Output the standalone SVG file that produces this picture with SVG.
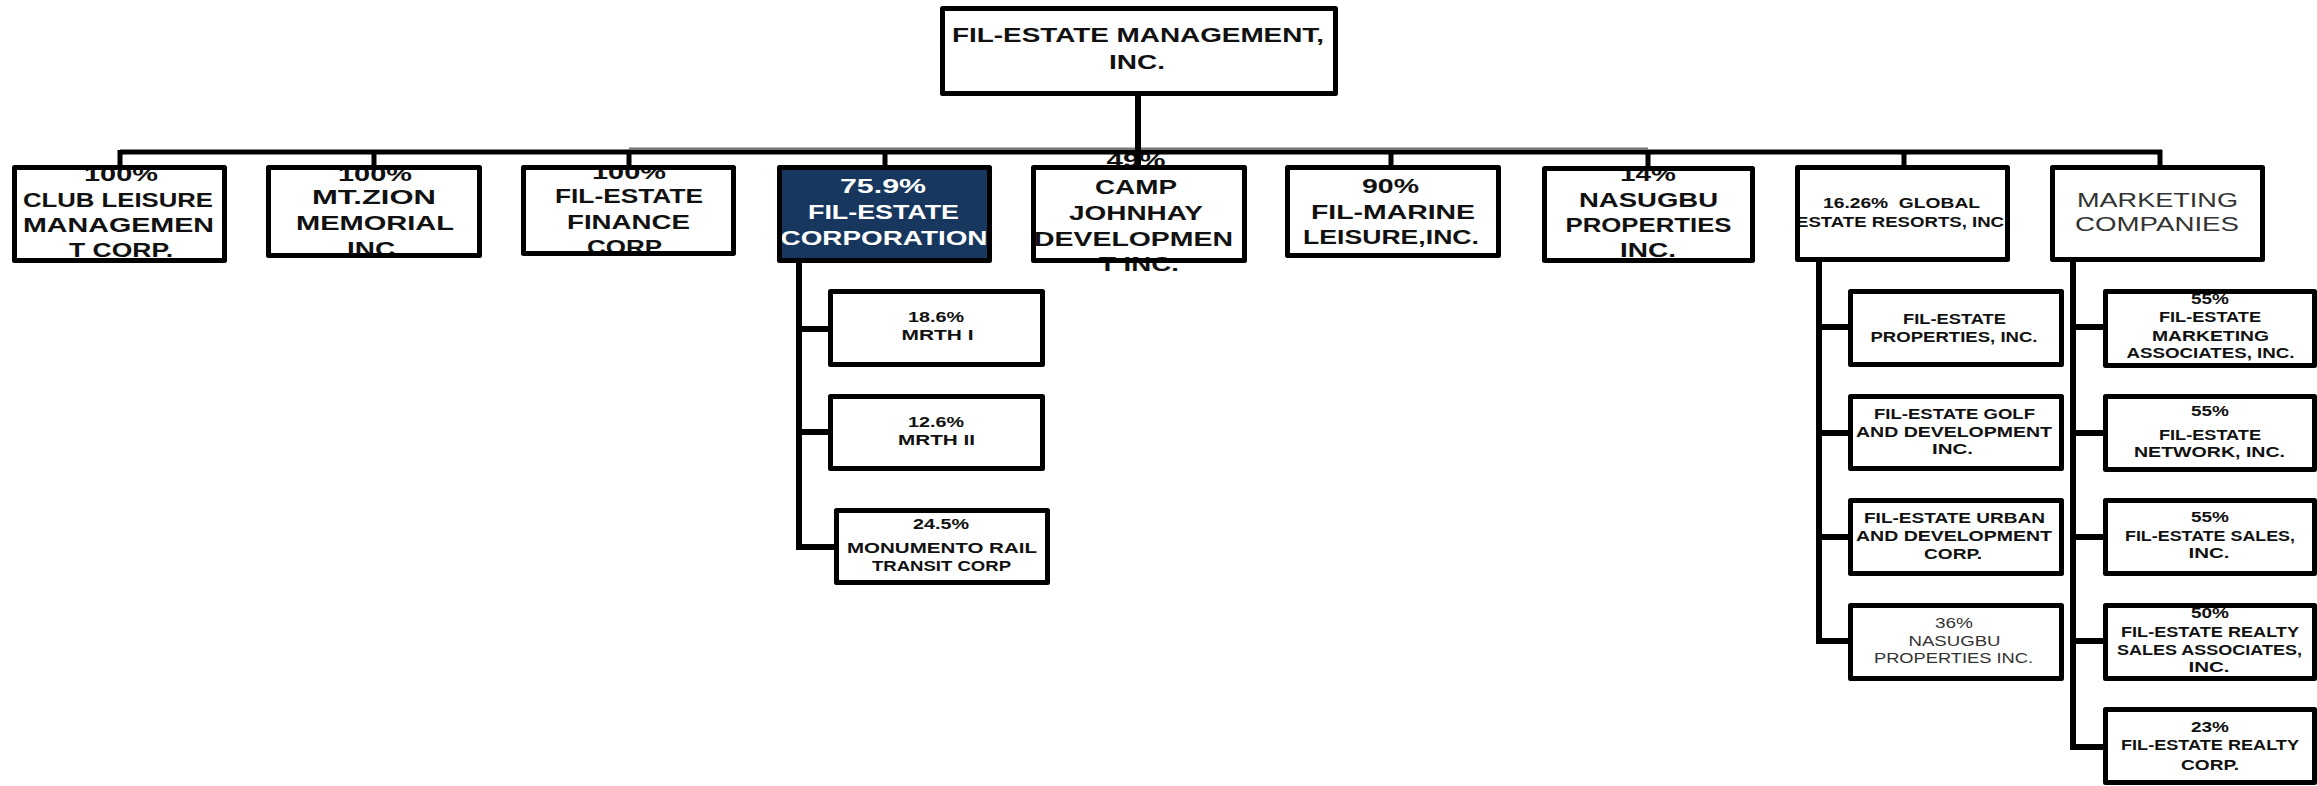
<svg xmlns="http://www.w3.org/2000/svg" width="2317" height="786" viewBox="0 0 2317 786">
<style>
.bx{fill:#fff;stroke:none}
.bd{fill:none;stroke:#000;stroke-width:5;stroke-linejoin:round}
.t{font-family:"Liberation Sans",Arial,sans-serif;font-weight:bold;font-size:19.5px;fill:#111;text-anchor:middle}
.s{font-family:"Liberation Sans",Arial,sans-serif;font-weight:bold;font-size:14.5px;fill:#111;text-anchor:middle}
.n{font-weight:normal;fill:#333}
.w{fill:#fff}
.ln{stroke:#000;stroke-width:5;fill:none}
.lv{stroke:#000;stroke-width:6;fill:none}
</style>
<defs>
<clipPath id="c8"><rect x="1797" y="168" width="211" height="92"/></clipPath>
</defs>
<g id="campjohnhay">
<rect class="bx" x="1033.5" y="167.5" width="211" height="93"/>
<text class="t" x="1136" y="167" textLength="59" lengthAdjust="spacingAndGlyphs">49%</text>
<text class="t" x="1136" y="194" textLength="82" lengthAdjust="spacingAndGlyphs">CAMP</text>
<text class="t" x="1136" y="220" textLength="134" lengthAdjust="spacingAndGlyphs">JOHNHAY</text>
<text class="t" x="1133.5" y="246" textLength="199" lengthAdjust="spacingAndGlyphs">DEVELOPMEN</text>
<text class="t" x="1139" y="271" textLength="80" lengthAdjust="spacingAndGlyphs">T INC.</text>
<rect class="bd" x="1033.5" y="167.5" width="211" height="93"/>
</g>
<g id="connectors">
<line class="ln" x1="120" y1="152" x2="2162" y2="152"/>
<line x1="629" y1="148.5" x2="1648" y2="148.5" stroke="#777" stroke-width="2"/>
<line class="lv" x1="1138" y1="94" x2="1138" y2="166" stroke-width="7"/>
<path class="ln" d="M120 150V167M374 150V167M629 150V167M885 150V167M1391 150V167M1648 150V167M1904 150V167M2160 150V167"/>
<path class="lv" d="M799 262V547H834M799 329H830M799 432H830"/>
<path class="lv" d="M1819 262V641H1850M1819 327H1850M1819 433H1850M1819 537H1850"/>
<path class="lv" d="M2073 262V747H2105M2073 327H2105M2073 433H2105M2073 537H2105M2073 641H2105"/>
</g>
<g id="top">
<rect class="bx" x="942.5" y="8.5" width="393" height="85"/>
<text class="t" x="1138" y="42" textLength="372" lengthAdjust="spacingAndGlyphs" style="font-size:21px">FIL-ESTATE MANAGEMENT,</text>
<text class="t" x="1137" y="69" textLength="56" lengthAdjust="spacingAndGlyphs" style="font-size:21px">INC.</text>
<rect class="bd" x="942.5" y="8.5" width="393" height="85"/>
</g>
<g id="club">
<rect class="bx" x="14.5" y="167.5" width="210" height="93"/>
<text class="t" x="121" y="181" textLength="74" lengthAdjust="spacingAndGlyphs">100%</text>
<text class="t" x="118" y="207" textLength="190" lengthAdjust="spacingAndGlyphs">CLUB LEISURE</text>
<text class="t" x="118.5" y="232" textLength="191" lengthAdjust="spacingAndGlyphs">MANAGEMEN</text>
<text class="t" x="121" y="257" textLength="104" lengthAdjust="spacingAndGlyphs">T CORP.</text>
<rect class="bd" x="14.5" y="167.5" width="210" height="93"/>
</g>
<g id="mtzion">
<rect class="bx" x="268.5" y="167.5" width="211" height="88"/>
<text class="t" x="375" y="181" textLength="74" lengthAdjust="spacingAndGlyphs">100%</text>
<text class="t" x="374" y="204" textLength="124" lengthAdjust="spacingAndGlyphs">MT.ZION</text>
<text class="t" x="375" y="230" textLength="158" lengthAdjust="spacingAndGlyphs">MEMORIAL</text>
<text class="t" x="375" y="256" textLength="56" lengthAdjust="spacingAndGlyphs">INC.</text>
<rect class="bd" x="268.5" y="167.5" width="211" height="88"/>
</g>
<g id="finance">
<rect class="bx" x="523.5" y="167.5" width="210" height="86"/>
<text class="t" x="629" y="179" textLength="74" lengthAdjust="spacingAndGlyphs">100%</text>
<text class="t" x="629" y="203" textLength="148" lengthAdjust="spacingAndGlyphs">FIL-ESTATE</text>
<text class="t" x="628.5" y="229" textLength="123" lengthAdjust="spacingAndGlyphs">FINANCE</text>
<text class="t" x="624.5" y="254" textLength="75" lengthAdjust="spacingAndGlyphs">CORP</text>
<rect class="bd" x="523.5" y="167.5" width="210" height="86"/>
</g>
<g id="filestatecorp">
<rect x="779.5" y="167.5" width="210" height="93" fill="#18375f"/>
<text class="t w" x="883" y="193" textLength="86" lengthAdjust="spacingAndGlyphs">75.9%</text>
<text class="t w" x="883.5" y="219" textLength="151" lengthAdjust="spacingAndGlyphs">FIL-ESTATE</text>
<text class="t w" x="884" y="245" textLength="207" lengthAdjust="spacingAndGlyphs">CORPORATION</text>
<rect class="bd" x="779.5" y="167.5" width="210" height="93"/>
</g>
<g id="filmarine">
<rect class="bx" x="1287.5" y="167.5" width="211" height="88"/>
<text class="t" x="1390.5" y="193" textLength="57" lengthAdjust="spacingAndGlyphs">90%</text>
<text class="t" x="1393" y="219" textLength="164" lengthAdjust="spacingAndGlyphs">FIL-MARINE</text>
<text class="t" x="1391" y="244" textLength="176" lengthAdjust="spacingAndGlyphs">LEISURE,INC.</text>
<rect class="bd" x="1287.5" y="167.5" width="211" height="88"/>
</g>
<g id="nasugbu">
<rect class="bx" x="1544.5" y="168.5" width="208" height="92"/>
<text class="t" x="1648" y="181" textLength="56" lengthAdjust="spacingAndGlyphs">14%</text>
<text class="t" x="1648.5" y="207" textLength="139" lengthAdjust="spacingAndGlyphs">NASUGBU</text>
<text class="t" x="1648.5" y="232" textLength="166" lengthAdjust="spacingAndGlyphs">PROPERTIES</text>
<text class="t" x="1648" y="257" textLength="56" lengthAdjust="spacingAndGlyphs">INC.</text>
<rect class="bd" x="1544.5" y="168.5" width="208" height="92"/>
</g>
<g id="globalestate">
<rect class="bx" x="1797.5" y="167.5" width="210" height="92"/>
<text class="s" x="1901.5" y="208" textLength="157" lengthAdjust="spacingAndGlyphs" style="white-space:pre">16.26%  GLOBAL</text>
<text class="s" x="1900" y="227" textLength="208" lengthAdjust="spacingAndGlyphs" clip-path="url(#c8)">ESTATE RESORTS, INC</text>
<rect class="bd" x="1797.5" y="167.5" width="210" height="92"/>
</g>
<g id="marketing">
<rect class="bx" x="2052.5" y="167.5" width="210" height="92"/>
<text class="t n" x="2157.5" y="207" textLength="161" lengthAdjust="spacingAndGlyphs" style="font-size:20px">MARKETING</text>
<text class="t n" x="2157" y="231" textLength="164" lengthAdjust="spacingAndGlyphs" style="font-size:20px">COMPANIES</text>
<rect class="bd" x="2052.5" y="167.5" width="210" height="92"/>
</g>
<g id="mrth1">
<rect class="bx" x="830.5" y="291.5" width="212" height="73"/>
<text class="s" x="936" y="322" textLength="56" lengthAdjust="spacingAndGlyphs">18.6%</text>
<text class="s" x="937.5" y="340" textLength="72" lengthAdjust="spacingAndGlyphs">MRTH I</text>
<rect class="bd" x="830.5" y="291.5" width="212" height="73"/>
</g>
<g id="mrth2">
<rect class="bx" x="830.5" y="396.5" width="212" height="72"/>
<text class="s" x="936" y="427" textLength="56" lengthAdjust="spacingAndGlyphs">12.6%</text>
<text class="s" x="936.5" y="445" textLength="77" lengthAdjust="spacingAndGlyphs">MRTH II</text>
<rect class="bd" x="830.5" y="396.5" width="212" height="72"/>
</g>
<g id="monumento">
<rect class="bx" x="836.5" y="510.5" width="211" height="72"/>
<text class="s" x="941" y="529" textLength="56" lengthAdjust="spacingAndGlyphs">24.5%</text>
<text class="s" x="942" y="553" textLength="190" lengthAdjust="spacingAndGlyphs">MONUMENTO RAIL</text>
<text class="s" x="941.5" y="571" textLength="139" lengthAdjust="spacingAndGlyphs">TRANSIT CORP</text>
<rect class="bd" x="836.5" y="510.5" width="211" height="72"/>
</g>
<g id="feproperties">
<rect class="bx" x="1850.5" y="291.5" width="211" height="73"/>
<text class="s" x="1954.5" y="324" textLength="103" lengthAdjust="spacingAndGlyphs">FIL-ESTATE</text>
<text class="s" x="1954" y="342" textLength="167" lengthAdjust="spacingAndGlyphs">PROPERTIES, INC.</text>
<rect class="bd" x="1850.5" y="291.5" width="211" height="73"/>
</g>
<g id="fegolf">
<rect class="bx" x="1850.5" y="396.5" width="211" height="72"/>
<text class="s" x="1954.5" y="419" textLength="161" lengthAdjust="spacingAndGlyphs">FIL-ESTATE GOLF</text>
<text class="s" x="1954" y="437" textLength="196" lengthAdjust="spacingAndGlyphs">AND DEVELOPMENT</text>
<text class="s" x="1952.5" y="454" textLength="41" lengthAdjust="spacingAndGlyphs">INC.</text>
<rect class="bd" x="1850.5" y="396.5" width="211" height="72"/>
</g>
<g id="feurban">
<rect class="bx" x="1850.5" y="500.5" width="211" height="73"/>
<text class="s" x="1954.5" y="523" textLength="181" lengthAdjust="spacingAndGlyphs">FIL-ESTATE URBAN</text>
<text class="s" x="1954" y="541" textLength="196" lengthAdjust="spacingAndGlyphs">AND DEVELOPMENT</text>
<text class="s" x="1953" y="559" textLength="58" lengthAdjust="spacingAndGlyphs">CORP.</text>
<rect class="bd" x="1850.5" y="500.5" width="211" height="73"/>
</g>
<g id="nasugbu36">
<rect class="bx" x="1850.5" y="605.5" width="211" height="73"/>
<text class="s n" x="1954" y="628" textLength="38" lengthAdjust="spacingAndGlyphs">36%</text>
<text class="s n" x="1954.5" y="646" textLength="92" lengthAdjust="spacingAndGlyphs">NASUGBU</text>
<text class="s n" x="1953.5" y="663" textLength="159" lengthAdjust="spacingAndGlyphs">PROPERTIES INC.</text>
<rect class="bd" x="1850.5" y="605.5" width="211" height="73"/>
</g>
<g id="femarketing">
<rect class="bx" x="2105.5" y="291.5" width="209" height="74"/>
<text class="s" x="2210" y="304" textLength="38" lengthAdjust="spacingAndGlyphs">55%</text>
<text class="s" x="2210" y="322" textLength="102" lengthAdjust="spacingAndGlyphs">FIL-ESTATE</text>
<text class="s" x="2210.5" y="341" textLength="117" lengthAdjust="spacingAndGlyphs">MARKETING</text>
<text class="s" x="2210.5" y="358" textLength="168" lengthAdjust="spacingAndGlyphs">ASSOCIATES, INC.</text>
<rect class="bd" x="2105.5" y="291.5" width="209" height="74"/>
</g>
<g id="fenetwork">
<rect class="bx" x="2105.5" y="396.5" width="209" height="73"/>
<text class="s" x="2210" y="416" textLength="38" lengthAdjust="spacingAndGlyphs">55%</text>
<text class="s" x="2210" y="440" textLength="102" lengthAdjust="spacingAndGlyphs">FIL-ESTATE</text>
<text class="s" x="2209.5" y="457" textLength="151" lengthAdjust="spacingAndGlyphs">NETWORK, INC.</text>
<rect class="bd" x="2105.5" y="396.5" width="209" height="73"/>
</g>
<g id="fesales">
<rect class="bx" x="2105.5" y="500.5" width="209" height="73"/>
<text class="s" x="2210" y="522" textLength="38" lengthAdjust="spacingAndGlyphs">55%</text>
<text class="s" x="2210" y="541" textLength="170" lengthAdjust="spacingAndGlyphs">FIL-ESTATE SALES,</text>
<text class="s" x="2209" y="558" textLength="41" lengthAdjust="spacingAndGlyphs">INC.</text>
<rect class="bd" x="2105.5" y="500.5" width="209" height="73"/>
</g>
<g id="ferealtysales">
<rect class="bx" x="2105.5" y="605.5" width="209" height="73"/>
<text class="s" x="2210" y="618" textLength="38" lengthAdjust="spacingAndGlyphs">50%</text>
<text class="s" x="2210" y="637" textLength="178" lengthAdjust="spacingAndGlyphs">FIL-ESTATE REALTY</text>
<text class="s" x="2209.5" y="655" textLength="185" lengthAdjust="spacingAndGlyphs">SALES ASSOCIATES,</text>
<text class="s" x="2209" y="672" textLength="41" lengthAdjust="spacingAndGlyphs">INC.</text>
<rect class="bd" x="2105.5" y="605.5" width="209" height="73"/>
</g>
<g id="ferealtycorp">
<rect class="bx" x="2105.5" y="709.5" width="209" height="73"/>
<text class="s" x="2210" y="732" textLength="38" lengthAdjust="spacingAndGlyphs">23%</text>
<text class="s" x="2210" y="750" textLength="178" lengthAdjust="spacingAndGlyphs">FIL-ESTATE REALTY</text>
<text class="s" x="2210" y="770" textLength="58" lengthAdjust="spacingAndGlyphs">CORP.</text>
<rect class="bd" x="2105.5" y="709.5" width="209" height="73"/>
</g>
</svg>
